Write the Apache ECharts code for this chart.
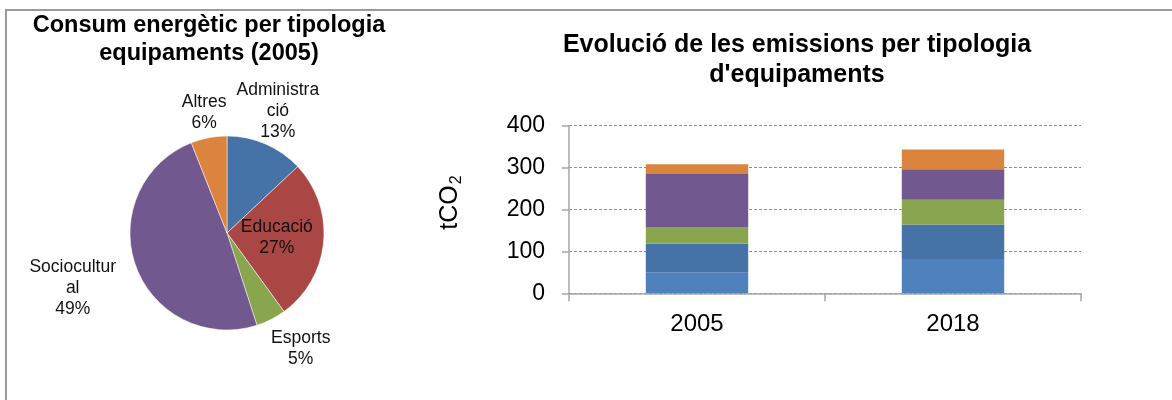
<!DOCTYPE html>
<html>
<head>
<meta charset="utf-8">
<script src="https://cdn.jsdelivr.net/npm/echarts@6/dist/echarts.min.js"></script>
<style>
  html, body { margin: 0; padding: 0; background: #fff; }
  #frame { position: absolute; left: 5px; top: 9px; width: 1167px; height: 391px;
           border-top: 2px solid #9a9a9a; border-left: 2px solid #9a9a9a; }
  #chart { position: absolute; left: 0; top: 0; width: 1172px; height: 400px; }
</style>
</head>
<body>
<div id="frame"></div>
<div id="chart"></div>
<script>

// pie: energy use per facility type, 2005 (%)
var pieNames = ['Administració', 'Educació', 'Esports', 'Sociocultural', 'Altres'];
var pieLabels = ['Administra\nció', 'Educació', 'Esports', 'Sociocultur\nal', 'Altres'];
var pieValues = [13, 27, 5, 49, 6];

// stacked bars: emissions (tCO2)
var years = ['2005', '2018'];
var barNames = ['Educació', 'Administració', 'Esports', 'Sociocultural', 'Altres'];
var barLightBlue = [50, 82];
var barDarkBlue = [68, 82];
var barGreen = [40, 59];
var barPurple = [127, 73];
var barOrange = [23, 47];
var yTicks = [0, 100, 200, 300, 400];

var font = "'Liberation Sans', Arial, sans-serif";
var pieColors = ['#4572a7', '#aa4643', '#89a54e', '#71588f', '#db843d'];
var barColors = ['#4f81bd', '#4572a7', '#89a54e', '#71588f', '#db843d'];

var pieCenter = [227, 233];
var pieRadius = 97;
// how far from the pie centre each label sits
var labelDist = [133, 50, 136, 164, 122];
var labelShift = [[-2, 0], [0, 0], [12, -6], [0, 0], [0, 0]];

var chart = echarts.init(document.getElementById('chart'));

var pieTotal = pieValues.reduce(function (a, b) { return a + b; }, 0);

function pieLabelLayout(params) {
  var i = params.dataIndex;
  var before = 0;
  for (var k = 0; k < i; k++) before += pieValues[k];
  var mid = (before + pieValues[i] / 2) / pieTotal * Math.PI * 2;
  return {
    x: pieCenter[0] + Math.sin(mid) * labelDist[i] + labelShift[i][0],
    y: pieCenter[1] - Math.cos(mid) * labelDist[i] + labelShift[i][1],
    align: 'center',
    verticalAlign: 'middle'
  };
}

var barData = [barLightBlue, barDarkBlue, barGreen, barPurple, barOrange];

var barSeries = barData.map(function (vals, i) {
  return {
    name: barNames[i],
    type: 'bar',
    stack: 'total',
    barWidth: '40%',
    data: vals,
    itemStyle: { color: barColors[i] },
    emphasis: { disabled: true }
  };
});

var option = {
  animation: false,
  textStyle: { fontFamily: font },

  title: [{
    text: 'Consum energètic per tipologia\nequipaments (2005)',
    left: 209,
    top: 12,
    textAlign: 'center',
    padding: 0,
    textStyle: { fontSize: 23.5, fontWeight: 'bold', color: '#000', lineHeight: 28, fontFamily: font }
  }, {
    text: "Evolució de les emissions per tipologia\nd'equipaments",
    left: 797,
    top: 30,
    textAlign: 'center',
    padding: 0,
    textStyle: { fontSize: 25, fontWeight: 'bold', color: '#000', lineHeight: 30, fontFamily: font }
  }],

  grid: {
    left: 569,
    right: 91,
    top: 125.7,
    bottom: 106.7
  },

  xAxis: {
    type: 'category',
    data: years,
    axisLine: { lineStyle: { color: '#a6a6a6', width: 1.5 } },
    axisTick: { show: true, length: 8, lineStyle: { color: '#a6a6a6', width: 1.5 } },
    axisLabel: { fontSize: 24, color: '#000', margin: 19, fontFamily: font }
  },

  yAxis: {
    type: 'value',
    min: yTicks[0],
    max: yTicks[yTicks.length - 1],
    interval: 100,
    name: 'tCO{sub|2}',
    nameLocation: 'middle',
    nameGap: 104,
    nameRotate: 90,
    nameTextStyle: {
      fontSize: 25,
      color: '#000',
      fontFamily: font,
      padding: [0, 0, 0, 14],
      rich: {
        sub: { fontSize: 16, padding: [14, 0, 0, 1], color: '#000', fontFamily: font }
      }
    },
    axisLine: { show: true, lineStyle: { color: '#a6a6a6', width: 1.5 } },
    axisTick: { show: true, length: 7, lineStyle: { color: '#a6a6a6', width: 1.5 } },
    axisLabel: { fontSize: 23, color: '#000', margin: 24, fontFamily: font },
    splitLine: { lineStyle: { color: '#a88a5c', type: [3, 2], width: 1 } }
  },

  series: [{
    name: 'Consum',
    type: 'pie',
    center: pieCenter,
    radius: pieRadius,
    startAngle: 90,
    clockwise: true,
    avoidLabelOverlap: false,
    data: pieNames.map(function (n, i) {
      return { name: n, value: pieValues[i], itemStyle: { color: pieColors[i] } };
    }),
    itemStyle: { borderColor: 'rgba(255,255,255,0.5)', borderWidth: 1 },
    label: {
      show: true,
      position: 'outside',
      fontSize: 17.5,
      lineHeight: 21,
      color: '#111',
      fontFamily: font,
      formatter: function (p) {
        return pieLabels[p.dataIndex] + '\n' + Math.round(p.percent) + '%';
      }
    },
    labelLine: { show: false },
    labelLayout: pieLabelLayout,
    emphasis: { disabled: true }
  }].concat(barSeries)
};

chart.setOption(option);
</script>
</body>
</html>
